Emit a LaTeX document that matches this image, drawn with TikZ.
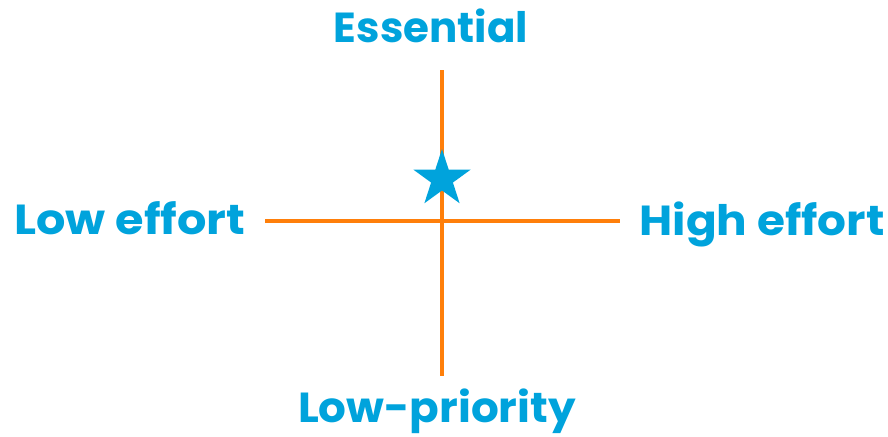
\documentclass[tikz,border=0pt]{standalone}
\usepackage{fontspec}
\setmainfont{Poppins}[BoldFont={Poppins Bold}]
\usetikzlibrary{shapes.geometric}
\definecolor{qblue}{HTML}{00A3DC}
\definecolor{qorange}{HTML}{FF7F0A}
\tikzset{
  lbl/.style={text=qblue, font=\bfseries\fontsize{42}{44}\selectfont, inner sep=0pt, anchor=base},
  axis/.style={draw=qorange, line width=4pt},
  mark star/.style={star, star points=5, star point ratio=2.618, fill=qblue, draw=none, minimum size=60pt, inner sep=0pt}
}
\begin{document}
\begin{tikzpicture}[x=1pt,y=-1pt]
\useasboundingbox (0,0) rectangle (888,436);
\coordinate (top) at (442,70);
\coordinate (bot) at (442,376);
\coordinate (lft) at (265,221);
\coordinate (rgt) at (620,221);
\draw[axis] (top) -- (bot);
\draw[axis] (lft) -- (rgt);
\node[mark star] (st) at (442,179) {};
\node[lbl] (ess) at (431,42) {Essential};
\node[lbl, xscale=1.1] (le) at (130,234) {Low effort};
\node[lbl, xscale=1.08] (he) at (762,235) {High effort};
\node[lbl, xscale=1.04] (lp) at (437,422) {Low-priority};
\end{tikzpicture}
\end{document}
